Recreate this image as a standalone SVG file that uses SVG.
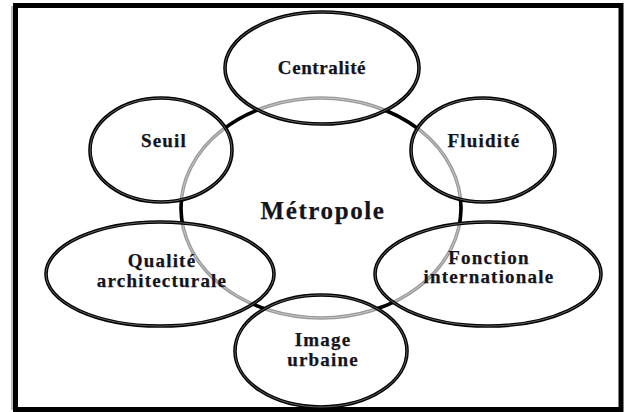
<svg xmlns="http://www.w3.org/2000/svg" width="628" height="412" viewBox="0 0 628 412">
<style>
.node{fill:none;stroke:#000;stroke-width:3.6}
.inner{fill:none;stroke:#8a8a8a;stroke-width:0.7}
.lbl{font-family:"Liberation Serif","Times New Roman",serif;font-weight:bold;font-size:19px;fill:#14141c;stroke:#14141c;stroke-width:0.25;text-anchor:middle;letter-spacing:1.2px}
.c{letter-spacing:0.6px}
.big{font-size:25px;letter-spacing:1.6px}
</style>
<defs>
<mask id="outside" maskUnits="userSpaceOnUse" x="0" y="0" width="628" height="412">
<rect x="0" y="0" width="628" height="412" fill="#fff"/>
<ellipse cx="322" cy="68" rx="97" ry="56" fill="#000"/>
<ellipse cx="161" cy="150" rx="71" ry="52" fill="#000"/>
<ellipse cx="483" cy="150" rx="72" ry="52" fill="#000"/>
<ellipse cx="160" cy="274" rx="114" ry="52" fill="#000"/>
<ellipse cx="488" cy="274" rx="113" ry="52" fill="#000"/>
<ellipse cx="321" cy="351" rx="86" ry="56" fill="#000"/>
</mask>
</defs>
<rect x="0" y="0" width="628" height="412" fill="#fff"/>
<rect x="11" y="6" width="3" height="404" fill="#bbb"/>
<rect x="15.5" y="5.5" width="605.5" height="404" fill="none" stroke="#000" stroke-width="5"/>
<g id="metropole">
<ellipse cx="321" cy="208" rx="140" ry="110" fill="none" stroke="#9a9a9a" stroke-width="3.5"/>
<ellipse cx="321" cy="208" rx="140" ry="110" fill="none" stroke="#d0d0d0" stroke-width="0.8"/>
<ellipse cx="321" cy="208" rx="140" ry="110" fill="none" stroke="#000" stroke-width="3.5" mask="url(#outside)"/>
<text class="lbl big" x="323" y="219">Métropole</text>
</g>
<g id="centralite">
<ellipse class="node" cx="322" cy="68" rx="97" ry="56"/>
<ellipse class="inner" cx="322" cy="68" rx="97" ry="56"/>
<text class="lbl c" x="322" y="74">Centralité</text>
</g>
<g id="seuil">
<ellipse class="node" cx="161" cy="150" rx="71" ry="52"/>
<ellipse class="inner" cx="161" cy="150" rx="71" ry="52"/>
<text class="lbl" x="164" y="147">Seuil</text>
</g>
<g id="fluidite">
<ellipse class="node" cx="483" cy="150" rx="72" ry="52"/>
<ellipse class="inner" cx="483" cy="150" rx="72" ry="52"/>
<text class="lbl" x="484" y="147">Fluidité</text>
</g>
<g id="qualite">
<ellipse class="node" cx="160" cy="274" rx="114" ry="52"/>
<ellipse class="inner" cx="160" cy="274" rx="114" ry="52"/>
<text class="lbl" x="162" y="267">Qualité</text>
<text class="lbl" x="162" y="287">architecturale</text>
</g>
<g id="fonction">
<ellipse class="node" cx="488" cy="274" rx="113" ry="52"/>
<ellipse class="inner" cx="488" cy="274" rx="113" ry="52"/>
<text class="lbl" x="489" y="264">Fonction</text>
<text class="lbl" x="489" y="283">internationale</text>
</g>
<g id="image">
<ellipse class="node" cx="321" cy="351" rx="86" ry="56"/>
<ellipse class="inner" cx="321" cy="351" rx="86" ry="56"/>
<text class="lbl" x="323" y="346">Image</text>
<text class="lbl" x="323" y="366">urbaine</text>
</g>
<g id="connectors"></g>
</svg>
